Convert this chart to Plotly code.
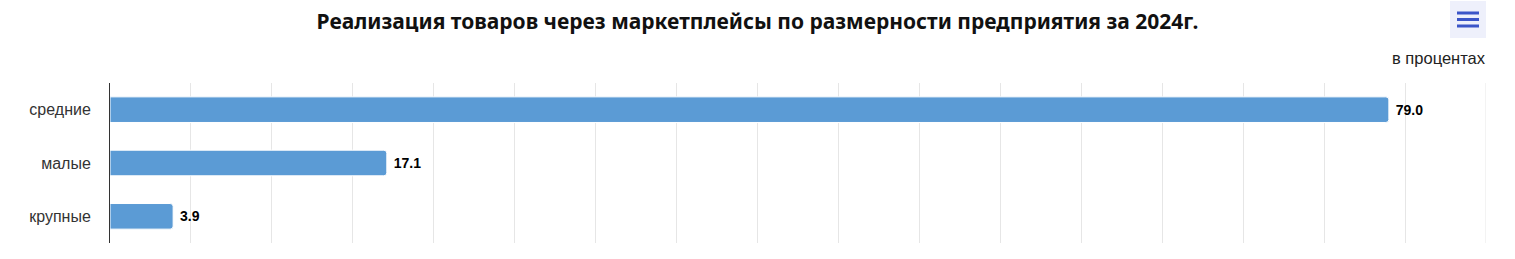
import plotly.graph_objects as go

# Shares of marketplace sales by enterprise size, 2024 (percent)
categories = ["средние", "малые", "крупные"]
values = [79.0, 17.1, 3.9]
title_text = "Реализация товаров через маркетплейсы по размерности предприятия за 2024г."
unit_text = "в процентах"

W, H = 1515, 259
ML, MR, MT, MB = 110, 29, 83, 16
X_MAX = 85

fig = go.Figure(
    go.Bar(
        x=values,
        y=categories,
        orientation="h",
        marker=dict(color="#5b9bd5", line=dict(color="#ffffff", width=1)),
        width=0.48,
        text=[f"{v:.1f}" for v in values],
        textposition="outside",
        textfont=dict(family="Liberation Sans, Arial", size=14, color="#000000"),
        texttemplate=" <b>%{text}</b>",
        cliponaxis=False,
        hoverinfo="x+y",
    )
)


# pixel -> paper (plot-area) fraction
def px_x(p):
    return (p - ML) / (W - ML - MR)


def px_y(p):
    return 1 - (p - MT) / (H - MT - MB)


shapes = [
    # closing gridline at the right edge of the value axis
    dict(type="line", xref="x", yref="paper", layer="below",
         x0=X_MAX, x1=X_MAX, y0=0, y1=1,
         line=dict(color="#e6e6e6", width=1)),
    # export-menu button
    dict(type="rect", xref="paper", yref="paper", layer="above",
         x0=px_x(1450), x1=px_x(1486), y0=px_y(38), y1=px_y(1),
         fillcolor="#eef0fb", line=dict(width=0)),
]
for yy in (13, 19.5, 26):
    shapes.append(dict(type="line", xref="paper", yref="paper", layer="above",
                       x0=px_x(1457), x1=px_x(1479), y0=px_y(yy), y1=px_y(yy),
                       line=dict(color="#3b55c8", width=3)))

fig.update_layout(
    width=W,
    height=H,
    margin=dict(l=ML, r=MR, t=MT, b=MB, pad=0),
    paper_bgcolor="#ffffff",
    plot_bgcolor="#ffffff",
    barcornerradius=3,
    showlegend=False,
    title=dict(
        text=f"<b>{title_text}</b>",
        x=0.5,
        xanchor="center",
        xref="container",
        yref="container",
        y=1 - 22 / H,
        yanchor="middle",
        font=dict(family="Noto Sans, Open Sans", size=21, color="#111111"),
    ),
    xaxis=dict(
        range=[0, X_MAX],
        dtick=5,
        tick0=0,
        showticklabels=False,
        showgrid=True,
        gridcolor="#e6e6e6",
        gridwidth=1,
        zeroline=False,
        showline=False,
        fixedrange=True,
    ),
    yaxis=dict(
        categoryorder="array",
        categoryarray=categories,
        autorange="reversed",
        showline=True,
        linecolor="#333333",
        linewidth=1,
        ticks="",
        ticklabelstandoff=15,
        tickfont=dict(family="Liberation Sans, Arial", size=16, color="#333333"),
        showgrid=False,
        fixedrange=True,
    ),
    shapes=shapes,
    annotations=[
        dict(text=unit_text, xref="paper", yref="paper",
             x=px_x(1488), y=px_y(58), xanchor="right", yanchor="middle",
             showarrow=False,
             font=dict(family="Liberation Sans, Arial", size=16.5, color="#222222")),
    ],
)

fig.write_html("out.html", config=dict(displayModeBar=False))
